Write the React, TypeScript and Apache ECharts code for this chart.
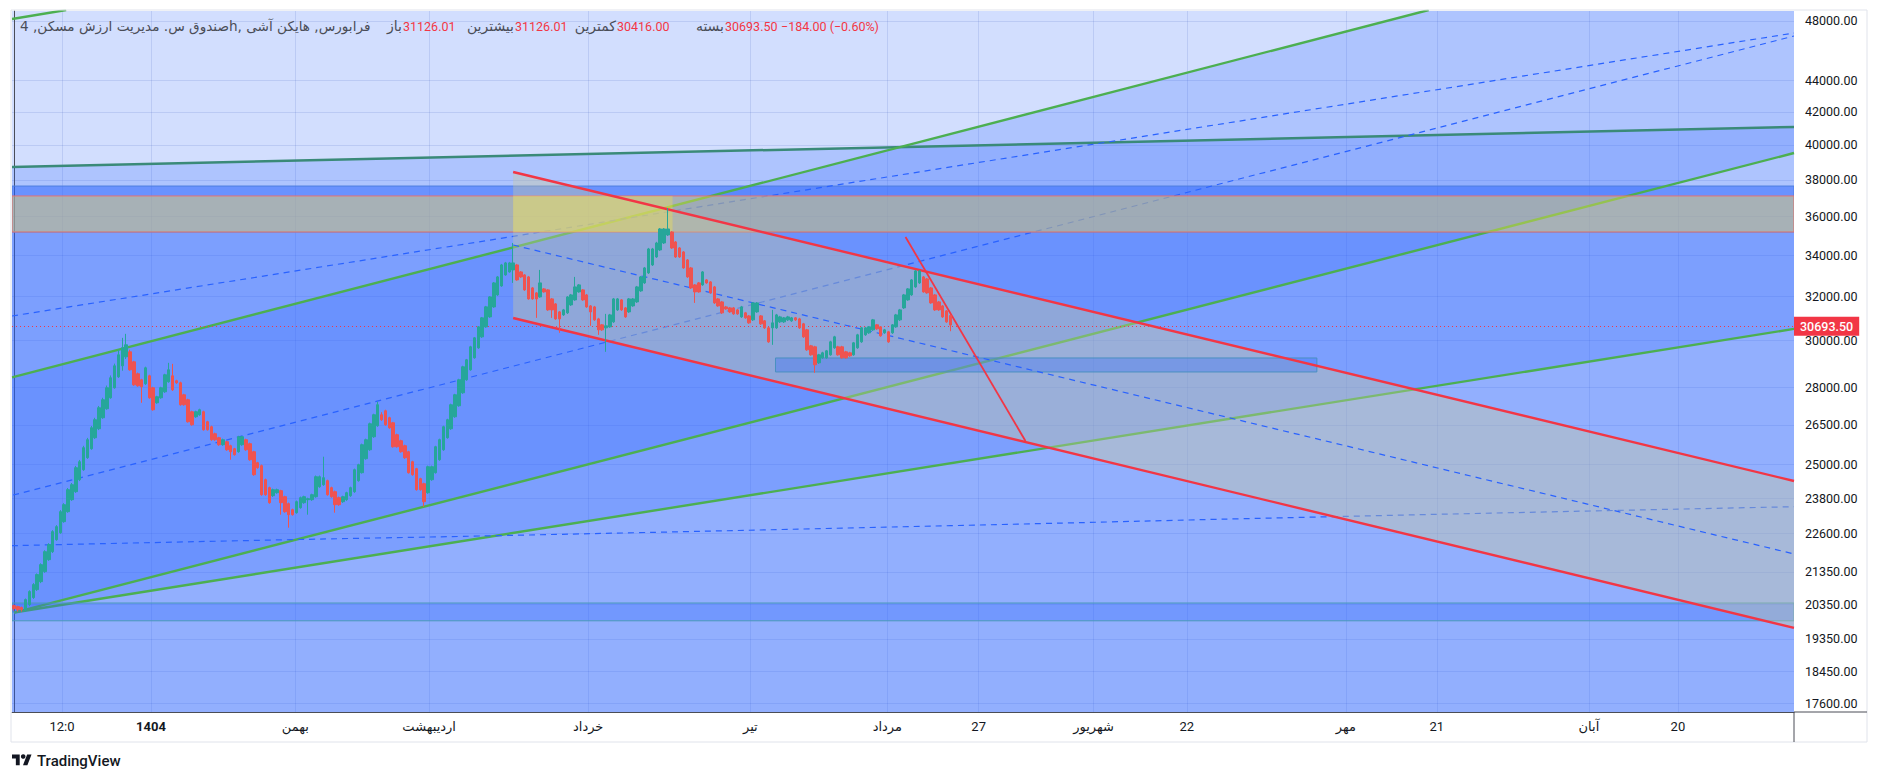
import React, { useEffect, useRef } from "react";
import * as echarts from "echarts";

// ---------- DATA ----------
// Heikin Ashi candles: [open, close, low, high]
const candles: number[][] = [
  [20317, 20228, 20168, 20347], [20287, 20198, 20139, 20317], [20258, 20198, 20139, 20287],
  [20198, 20497, 20139, 20530], [20347, 20739, 20300, 20780], [20558, 20954, 20520, 21000],
  [20800, 21264, 20760, 21300], [21046, 21578, 21000, 21620], [21358, 21994, 21320, 22040],
  [21738, 22222, 21700, 22270], [21994, 22651, 21950, 22700], [22386, 22818, 22350, 22870],
  [22617, 23326, 22580, 23380], [22987, 23567, 22950, 23620], [23326, 24093, 23290, 24150],
  [23741, 24270, 23700, 24330], [24022, 24884, 23980, 24950], [24449, 25105, 24400, 25170],
  [24811, 25627, 24770, 25700], [25253, 25930, 25210, 26000], [25589, 26390, 25550, 26460],
  [26006, 26703, 25960, 26780], [26352, 27178, 26300, 27250], [26782, 27499, 26740, 27580],
  [27138, 27988, 27100, 28080], [27580, 28402, 27540, 28500], [27988, 28907, 27950, 29000],
  [28444, 29378, 28400, 29600], [28907, 29682, 28700, 30121], [29292, 29813, 29200, 30299],
  [29508, 28738, 28700, 29600], [29077, 28112, 28070, 29120], [28570, 28071, 28030, 28620],
  [28319, 28030, 27378, 28360], [28153, 28822, 28110, 28870], [28486, 27580, 27540, 28530],
  [27988, 27098, 27060, 28030], [27378, 27621, 27340, 27660], [27580, 27988, 27540, 28030],
  [27824, 28528, 27780, 28570], [28236, 28738, 28200, 29035], [28486, 27906, 27860, 28990],
  [28278, 28195, 28150, 28320], [28195, 27298, 27260, 28240], [27702, 27298, 27260, 27740],
  [27499, 26625, 26590, 27540], [27019, 26507, 26470, 27060], [26821, 27019, 26780, 27060],
  [26900, 27098, 26860, 27140], [27019, 26313, 26280, 27060], [26625, 26313, 26280, 26660],
  [26429, 25930, 25890, 26470], [26159, 25930, 25890, 26200], [26006, 25740, 25700, 26040],
  [25740, 25930, 25700, 25970], [25854, 25551, 25510, 25890], [25702, 25476, 25179, 25740],
  [25589, 25364, 25330, 25620], [25476, 26044, 25440, 26080], [25740, 26044, 25700, 26080],
  [25930, 25551, 25510, 25970], [25778, 25179, 25140, 25820], [25476, 24630, 24590, 25510],
  [25068, 24884, 24850, 25100], [24958, 23916, 23880, 25000], [24449, 23916, 23880, 24490],
  [24164, 23637, 23600, 24200], [23881, 24093, 23840, 24130], [23986, 24093, 23950, 24130],
  [24058, 23637, 23224, 24090], [23846, 23326, 23290, 23880], [23602, 23224, 22784, 23640],
  [23395, 23224, 23190, 23430], [23292, 23671, 23260, 23710], [23464, 23811, 23430, 23850],
  [23637, 23846, 23600, 23880], [23741, 23776, 23224, 23810], [23741, 23916, 23700, 23950],
  [23846, 24557, 23810, 24600], [24199, 24557, 24160, 24600], [24270, 24521, 24230, 25290],
  [24413, 23916, 23880, 24450], [24164, 23846, 23810, 24200], [24022, 23567, 23292, 24060],
  [23811, 23567, 23530, 23850], [23671, 23846, 23630, 23880], [23741, 23986, 23700, 24020],
  [23881, 24164, 23840, 24200], [24022, 24811, 23980, 24850], [24413, 24994, 24380, 25030],
  [24703, 25740, 24670, 25780], [25216, 25930, 25180, 25970], [25551, 26546, 25510, 26590],
  [26044, 26900, 26000, 26940], [26468, 27298, 26430, 27418], [26900, 26703, 26660, 27000],
  [27058, 26507, 26470, 27100], [26782, 26390, 26350, 26820], [26585, 25664, 25630, 26620],
  [26121, 25664, 25630, 26160], [25892, 25476, 25440, 25930], [25702, 25253, 25210, 25740],
  [25476, 24703, 24670, 25510], [25105, 24630, 24590, 25140], [24848, 24093, 24060, 24880],
  [24485, 24093, 24060, 24520], [24306, 23671, 23498, 24340], [23986, 24921, 23950, 24960],
  [24449, 24921, 24410, 24960], [24703, 25664, 24670, 25700], [25179, 25930, 25140, 25970],
  [25551, 26429, 25510, 26470], [26006, 26703, 25970, 26740], [26352, 27298, 26310, 27340],
  [26821, 27702, 26780, 27740], [27258, 28319, 27220, 28360], [27783, 28865, 27740, 28910],
  [28319, 29163, 28280, 29200], [28738, 29726, 28700, 29770], [29249, 30121, 29210, 30160],
  [29682, 30612, 29640, 30650], [30165, 31019, 30120, 31060], [30612, 31525, 30570, 31570],
  [31064, 31990, 31020, 32030], [31524, 32656, 31480, 32700], [32085, 32945, 32040, 32990],
  [32512, 33531, 32470, 33580], [33042, 33630, 33000, 33680], [33188, 33630, 33150, 33680],
  [33286, 33630, 32656, 34632], [33531, 32800, 32760, 33580], [33188, 32945, 32900, 33230],
  [33042, 32322, 32280, 33080], [32945, 31897, 31860, 32990], [32417, 31897, 31860, 32460],
  [32180, 31897, 31019, 32220], [31990, 32656, 31950, 33286], [32370, 32227, 32190, 32410],
  [32322, 31386, 31340, 32360], [31897, 31386, 31019, 31940], [31664, 30973, 30930, 31700],
  [31293, 30973, 30343, 31330], [31156, 31386, 31110, 31430], [31248, 31990, 31200, 32030],
  [31617, 32085, 31570, 32130], [31850, 32465, 31810, 32945], [32227, 32560, 32190, 32600],
  [32322, 31850, 31810, 32360], [32085, 31524, 31480, 32130], [31570, 31293, 30657, 31610],
  [31524, 30928, 30880, 31570], [30973, 30477, 30254, 31020], [30702, 30477, 30430, 30740],
  [30567, 30657, 29508, 31202], [30612, 31156, 30570, 31200], [30837, 31897, 30790, 31940],
  [31386, 31897, 31340, 31940], [31850, 31386, 31340, 31890], [31478, 31064, 31020, 31520],
  [31293, 31897, 31250, 31940], [31570, 31897, 31530, 31940], [31757, 32465, 31710, 32510],
  [32274, 32945, 32230, 32990], [32656, 33384, 32610, 33430], [33139, 34328, 33090, 34380],
  [33531, 34328, 33480, 34380], [33927, 34632, 33880, 34690], [34278, 35352, 34230, 35400],
  [34632, 35352, 34580, 35400], [35042, 35352, 34990, 36460], [35196, 34379, 34330, 35240],
  [34683, 33927, 33880, 34730], [34379, 33927, 33880, 34420], [34177, 33384, 33340, 34220],
  [33778, 32945, 32900, 33820], [33384, 32417, 32370, 33430], [32560, 32227, 31710, 32600],
  [32656, 32227, 32190, 32700], [32560, 33188, 32520, 33230], [32800, 32656, 32610, 32840],
  [32704, 32180, 32140, 32740], [32465, 31710, 31660, 32510], [31897, 31570, 31530, 31940],
  [31757, 31248, 31200, 31800], [31524, 31432, 31390, 31570], [31478, 31293, 31250, 31520],
  [31478, 31202, 31160, 31520], [31386, 31202, 31160, 31430], [31064, 31524, 31020, 31570],
  [31248, 31019, 30980, 31290], [31110, 30792, 30750, 31150], [30928, 31710, 30880, 31750],
  [31293, 31710, 31250, 31750], [31110, 30747, 30700, 31150], [30883, 30567, 30520, 30920],
  [30567, 29945, 29900, 30610], [30567, 30792, 29813, 31386], [30567, 31156, 30520, 31200],
  [30837, 31064, 30790, 31110], [30837, 31019, 30790, 31060], [30928, 31064, 30880, 31110],
  [30883, 31019, 30840, 31060], [31019, 30928, 30880, 31060], [30973, 30567, 30520, 31020],
  [30747, 30165, 30120, 30790], [30477, 29595, 29550, 30520], [29770, 29378, 29340, 29810],
  [29726, 28950, 28612, 29770], [29035, 29378, 28990, 29420], [29249, 29465, 29210, 29510],
  [29249, 29552, 29210, 29590], [29378, 29945, 29340, 29990], [29682, 30165, 29640, 30210],
  [29726, 29378, 29340, 29770], [29726, 29249, 29210, 29770], [29508, 29249, 29210, 29550],
  [29465, 29335, 29290, 29510], [29378, 29901, 29340, 29940], [29682, 30254, 29640, 30300],
  [29945, 30567, 29900, 30610], [30254, 30567, 30210, 30610], [30343, 30612, 30300, 30650],
  [30477, 30928, 30430, 30970], [30702, 30522, 30480, 30740], [30612, 30210, 30170, 30650],
  [30343, 30477, 30300, 30520], [30388, 29945, 29900, 30430], [30343, 30702, 30300, 30740],
  [30612, 31156, 30570, 31200], [30928, 31386, 30880, 31430], [31478, 32085, 31430, 32130],
  [31850, 32370, 31810, 32410], [32085, 32800, 32040, 32840], [32465, 33237, 32420, 33280],
  [32656, 33237, 32610, 33280], [32945, 32227, 32190, 32990], [32848, 32180, 32140, 32890],
  [32417, 31710, 31670, 32460], [32085, 31386, 31340, 32130], [31757, 31386, 31340, 31800],
  [31570, 31064, 31020, 31610], [31339, 30837, 30790, 31380], [31126.01, 30693.5, 30416, 31126.01],
];

const lastPrice = 30693.5;

// price-axis ticks (log scale)
const yTickValues = [48000, 44000, 42000, 40000, 38000, 36000, 34000, 32000, 30000, 28000,
  26500, 25000, 23800, 22600, 21350, 20350, 19350, 18450, 17600];

// time-axis ticks (bar index) and labels
const xTickIdx = [12.4, 35.4, 72.7, 107.3, 148.4, 190.3, 225.7, 249.3, 279.0, 303.1, 344.2, 367.7, 407.0, 430.0];
const xTickLabels = ["12:0", "1404", "بهمن", "اردیبهشت", "خرداد", "تیر", "مرداد", "27", "شهریور", "22", "مهر", "21", "آبان", "20"];

// legend texts
const legendTitle = "صندوق س. مدیریت ارزش مسکن, 4h, فرابورس, هایکن آشی";
const legendLabels = ["باز", "بیشترین", "کمترین", "بسته"];
const legendValues = ["31126.01", "31126.01", "30416.00", "30693.50"];
const legendChange = "−184.00 (−0.60%)";

// drawings: [barIndex, price]
const trendGreenUpper = [[-0.5, 28421], [365.6, 48783]];
const trendGreenMid = [[0, 20110], [460, 39530]];
const trendGreenLow = [[0, 20110], [460, 30520]];
const trendGreenTop = [[-0.5, 48140], [13.5, 48783]];
const trendTeal = [[-0.5, 38727], [460, 41073]];
const channelUpper = [[129, 38443], [460, 24403]];
const channelLower = [[129, 31013], [460, 19661]];
const channelMid = [[129, 34527], [460, 21920]];
const steepRed = [[230.4, 34940], [261.4, 25882]];
const dashA = [[-0.5, 31105], [460, 47160]];
const dashB = [[-0.2, 23904], [460, 46953]];
const dashCurve = [[-0.5, 22189], [71.6, 22386], [124.9, 22518], [242.0, 22851], [340.6, 23156], [460, 23498]];

// horizontal zones: [upper price, lower price]
const zoneStripe = [37656, 35194];
const zoneBand = [37110, 35194];
const zoneBottom = [20394, 19868];
// boxes: [fromIdx, toIdx, upper price, lower price]
const boxYellow = [129, 170.2, 37110, 35194];
const boxSupport = [196.8, 336.7, 29243, 28647];

// ---------- CHART ----------
const X_MIN = -0.5;
const X_MAX = 460;
const P_TOP = 48711;
const P_BOTTOM = 17374;
const L = Math.log;

const TVLogo = echarts.graphic.extendPath("M14 22H7V11H0V4h14v18z M28 22h-8l7.5-18h8L28 22z", {});
echarts.graphic.registerShape("tvlogo", TVLogo);

const BLUE_FILL = "rgba(41,98,255,0.21)";

type Poly = { pts: number[][]; fill: string; stroke?: string; lw?: number };

function rectPoly(x0: number, x1: number, pHi: number, pLo: number): number[][] {
  return [[x0, pHi], [x1, pHi], [x1, pLo], [x0, pLo]];
}

function buildOption() {
  const PB = 16500;
  const topY = trendGreenUpper[1][1];
  const backPolys: Poly[] = [
    { pts: [trendTeal[0], trendTeal[1], [X_MAX, PB], [X_MIN, PB]], fill: BLUE_FILL },
    { pts: rectPoly(X_MIN, X_MAX, zoneStripe[0], PB), fill: BLUE_FILL },
    { pts: [[X_MIN, zoneStripe[0]], [X_MAX, zoneStripe[0]], trendGreenLow[1], trendGreenLow[0], [X_MIN, trendGreenLow[0][1]]], fill: BLUE_FILL },
    { pts: [trendGreenUpper[0], trendGreenUpper[1], [X_MAX, topY], trendGreenMid[1], trendGreenMid[0], [X_MIN, trendGreenMid[0][1]]], fill: BLUE_FILL },
    { pts: rectPoly(X_MIN, X_MAX, zoneStripe[0], zoneStripe[1]), fill: BLUE_FILL, stroke: "#4d7fe0", lw: 1 },
  ];
  const frontPolys: Poly[] = [
    { pts: rectPoly(X_MIN, X_MAX, zoneBand[0], zoneBand[1]), fill: "rgba(255,220,80,0.41)", stroke: "#e57373", lw: 1 },
    { pts: rectPoly(X_MIN, X_MAX, zoneBottom[0], zoneBottom[1]), fill: "rgba(41,98,255,0.3)", stroke: "#4a9ab8", lw: 1 },
    { pts: [channelUpper[0], channelUpper[1], channelLower[1], channelLower[0]], fill: "rgba(200,200,160,0.39)" },
    { pts: rectPoly(boxYellow[0], boxYellow[1], boxYellow[2], boxYellow[3]), fill: "rgba(255,235,59,0.3)" },
    { pts: rectPoly(boxSupport[0], boxSupport[1], boxSupport[2], boxSupport[3]), fill: "rgba(41,98,255,0.3)", stroke: "#4a90c0", lw: 1 },
  ];

  const polySeries = (name: string, polys: Poly[], z: number) => ({
    type: "custom",
    name,
    z,
    clip: true,
    silent: true,
    data: polys.map((p) => [p.pts[0][0], L(p.pts[0][1])]),
    encode: { x: 0, y: 1 },
    renderItem: (params: any, api: any) => {
      const p = polys[params.dataIndex];
      const points = p.pts.map(([x, y]) => api.coord([x, L(y)]));
      return {
        type: "polygon",
        shape: { points },
        style: { fill: p.fill, stroke: p.stroke || null, lineWidth: p.lw || 0 },
      };
    },
  });

  const lineSeries = (pts: number[][], color: string, width: number, type: any, z: number, smooth = false) => ({
    type: "line",
    z,
    silent: true,
    symbol: "none",
    smooth,
    data: pts.map(([x, p]) => [x, L(p)]),
    lineStyle: { color, width, type },
  });

  const gridColor = "rgba(70,100,190,0.16)";
  const yTickLn = yTickValues.map((v) => L(v));
  const legendNumX = [403, 515, 617, 725];
  const titleFont = "13.6px 'DejaVu Sans', sans-serif";
  const faFont = "14px 'DejaVu Sans', sans-serif";
  const numFont = "12.5px Roboto, sans-serif";

  return {
    animation: false,
    backgroundColor: "#ffffff",
    grid: {
      left: 12, right: 85, top: 11, bottom: 69,
      show: true, backgroundColor: "#d2defe", borderWidth: 0,
    },
    xAxis: {
      type: "value",
      min: X_MIN,
      max: X_MAX,
      axisLine: { show: true, onZero: false, lineStyle: { color: "#4a4d57", width: 1 } },
      axisTick: { show: false, customValues: xTickIdx },
      axisLabel: {
        customValues: xTickIdx,
        color: "#131722",
        fontSize: 13,
        fontFamily: "Roboto, 'DejaVu Sans', sans-serif",
        margin: 8,
        formatter: (v: number) => {
          let k = 0;
          for (let i = 0; i < xTickIdx.length; i++) if (Math.abs(xTickIdx[i] - v) < Math.abs(xTickIdx[k] - v)) k = i;
          const t = xTickLabels[k];
          return t === "1404" ? "{b|1404}" : t;
        },
        rich: { b: { fontWeight: "bold", fontSize: 13, color: "#131722", fontFamily: "Roboto, sans-serif" } },
      },
      splitLine: { show: true, lineStyle: { color: gridColor, width: 1 } },
    },
    yAxis: {
      type: "value",
      position: "right",
      min: L(P_BOTTOM),
      max: L(P_TOP),
      axisLine: { show: true, lineStyle: { color: "#4a4d57", width: 1 } },
      axisTick: { show: false, customValues: yTickLn },
      axisLabel: {
        customValues: yTickLn,
        color: "#131722",
        fontSize: 12.5,
        fontFamily: "Roboto, sans-serif",
        margin: 11,
        formatter: (v: number) => Math.round(Math.exp(v)).toFixed(2),
      },
      splitLine: { show: true, lineStyle: { color: gridColor, width: 1 } },
    },
    series: [
      polySeries("backFills", backPolys, 1),
      lineSeries(trendTeal, "#3a8a78", 2.5, "solid", 2),
      lineSeries(trendGreenUpper, "#4caf50", 2.4, "solid", 2),
      lineSeries(trendGreenMid, "#4caf50", 2.4, "solid", 2),
      lineSeries(trendGreenLow, "#4caf50", 2.4, "solid", 2),
      lineSeries(trendGreenTop, "#4caf50", 2.4, "solid", 2),
      lineSeries(dashA, "#2962ff", 1.2, [6, 5], 2),
      lineSeries(dashB, "#2962ff", 1.2, [6, 5], 2),
      lineSeries(dashCurve, "#2962ff", 1.2, [6, 5], 2, true),
      polySeries("frontFills", frontPolys, 3),
      lineSeries(channelMid, "#2962ff", 1.2, [6, 5], 4),
      lineSeries(channelUpper, "#f23645", 2.4, "solid", 4),
      lineSeries(channelLower, "#f23645", 2.4, "solid", 4),
      lineSeries(steepRed, "#f23645", 1.8, "solid", 4),
      {
        type: "candlestick",
        z: 5,
        barWidth: 3,
        silent: true,
        data: candles.map((c, i) => [i, L(c[0]), L(c[1]), L(c[2]), L(c[3])]),
        encode: { x: 0, y: [1, 2, 3, 4] },
        itemStyle: {
          color: "#26a69a", color0: "#ef5350",
          borderColor: "#26a69a", borderColor0: "#ef5350", borderWidth: 1,
        },
        markLine: {
          silent: true,
          symbol: ["none", "none"],
          lineStyle: { color: "#f23645", type: [1, 3], width: 1 },
          label: {
            show: true,
            position: "end",
            distance: 0,
            formatter: lastPrice.toFixed(2),
            backgroundColor: "#f23645",
            color: "#ffffff",
            fontSize: 12.5,
            fontWeight: 500,
            fontFamily: "Roboto, sans-serif",
            padding: [3, 6, 3, 6],
          },
          data: [{ yAxis: L(lastPrice) }],
        },
      },
    ],
    graphic: [
      { type: "rect", shape: { x: 11, y: 10, width: 1856, height: 732 }, style: { fill: "none", stroke: "#e0e3eb", lineWidth: 1 }, z: 50, silent: true },
      { type: "line", shape: { x1: 1794, y1: 712, x2: 1794, y2: 742 }, style: { stroke: "#4a4d57", lineWidth: 1 }, z: 50 },
      { type: "line", shape: { x1: 1794, y1: 712, x2: 1867, y2: 712 }, style: { stroke: "#4a4d57", lineWidth: 1 }, z: 50 },
      { type: "text", x: 20, y: 26, z: 60, style: { text: legendTitle, fill: "#4a4d57", font: titleFont, textVerticalAlign: "middle", textAlign: "left" } },
      ...legendLabels.flatMap((lab, i) => [
        { type: "text", x: legendNumX[i] - 1, y: 26, z: 60, style: { text: lab, fill: "#4a4d57", font: faFont, textVerticalAlign: "middle", textAlign: "right" } },
        { type: "text", x: legendNumX[i], y: 26, z: 60, style: { text: legendValues[i], fill: "#f23645", font: numFont, textVerticalAlign: "middle", textAlign: "left" } },
      ]),
      { type: "text", x: 781, y: 26, z: 60, style: { text: legendChange, fill: "#f23645", font: numFont, textVerticalAlign: "middle", textAlign: "left" } },
      { type: "tvlogo", x: 12, y: 752, scaleX: 0.55, scaleY: 0.6, z: 60, style: { fill: "#131722" } },
      { type: "circle", shape: { cx: 23.2, cy: 756.5, r: 2.3 }, z: 60, style: { fill: "#131722" } },
      { type: "text", x: 37, y: 761, z: 60, style: { text: "TradingView", fill: "#131722", font: "500 15px Roboto, sans-serif", textVerticalAlign: "middle", textAlign: "left" } },
    ],
  };
}

export default function App() {
  const ref = useRef<HTMLDivElement>(null);
  useEffect(() => {
    document.body.style.margin = "0";
    const chart = echarts.init(ref.current as HTMLDivElement, null, { renderer: "svg" });
    chart.setOption(buildOption() as any);
    return () => chart.dispose();
  }, []);
  return <div ref={ref} style={{ width: 1879, height: 781, background: "#ffffff" }} />;
}
